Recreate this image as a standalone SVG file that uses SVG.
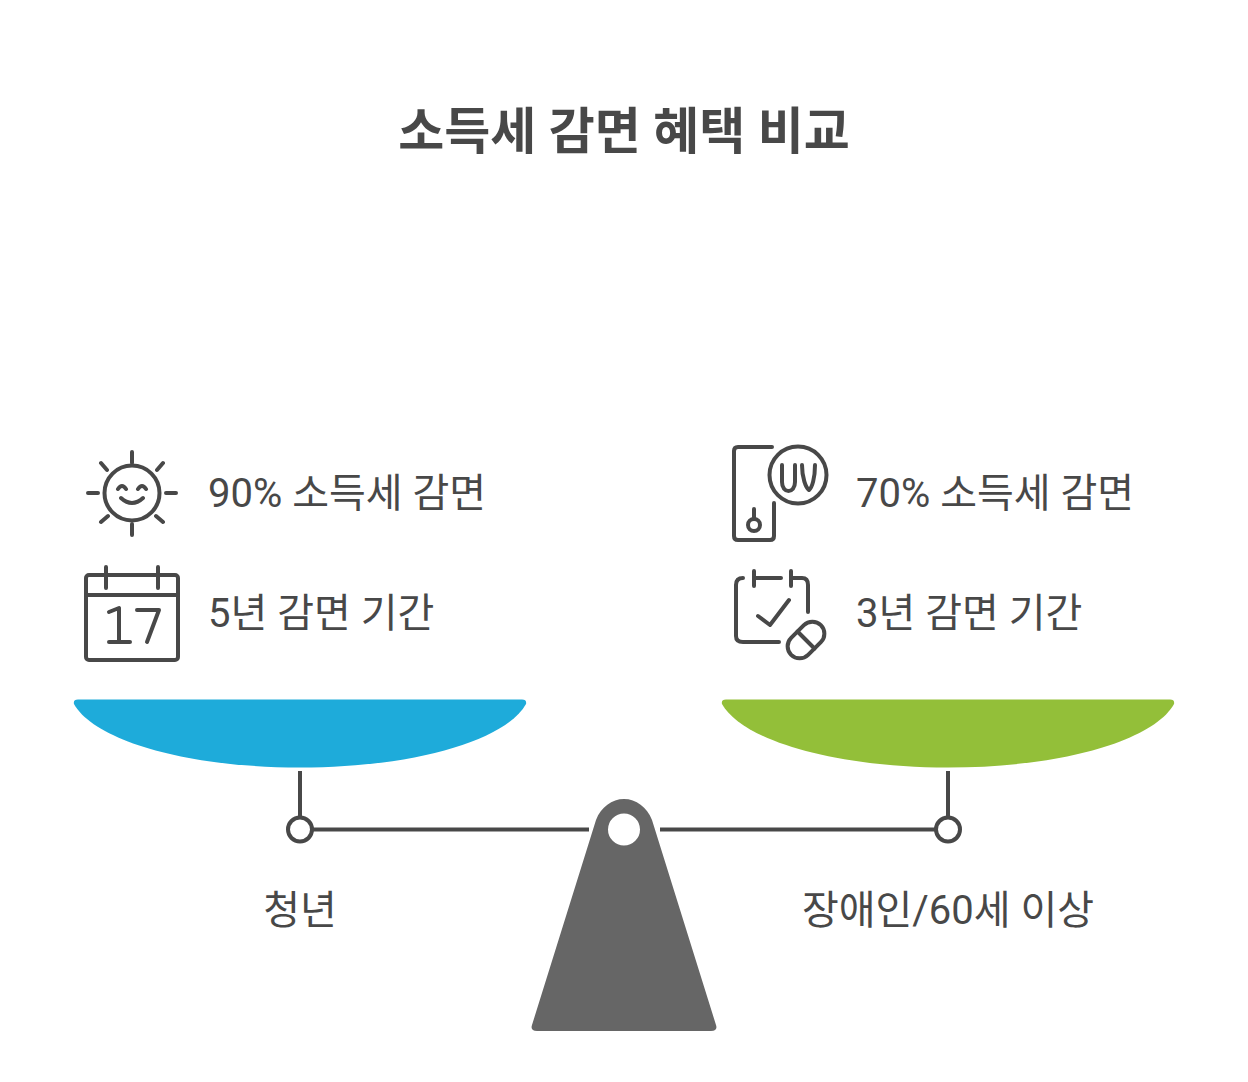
<svg xmlns="http://www.w3.org/2000/svg" width="1248" height="1082" viewBox="0 0 1248 1082">
<style>
text{font-family:Roboto,"Noto Sans CJK KR",sans-serif;fill:#484848}
.t{font-size:50px;font-weight:700;text-anchor:middle}
.l{font-size:40px}
.c{font-size:40px;text-anchor:middle}
.i{fill:none;stroke:#484848;stroke-width:4;stroke-linecap:round;stroke-linejoin:round}
.b{fill:none;stroke:#484848;stroke-width:4}
</style>
<rect width="1248" height="1082" fill="#fff"/>
<g id="title"><text class="t" x="624" y="149">소득세 감면 혜택 비교</text></g>
<g id="connectors">
<path class="b" d="M300 771V819M313 829.500H589M660 829.500H935M948 771V819"/>
<circle class="b" cx="300" cy="829.500" r="12" fill="#fff"/>
<circle class="b" cx="948" cy="829.500" r="12" fill="#fff"/>
</g>
<g id="pan-left"><path d="M78 699.500H522Q527 699.500 526 704C506 740 415 767.500 300 767.500C185 767.500 94 740 74 704Q73 699.500 78 699.500Z" fill="#1eabda"/></g>
<g id="pan-right"><path d="M726 699.500H1170Q1175 699.500 1174 704C1154 740 1063 767.500 948 767.500C833 767.500 742 740 722 704Q721 699.500 726 699.500Z" fill="#93bf39"/></g>
<g id="fulcrum"><path fill-rule="evenodd" d="M596 820C601 807 612 799 624 799C636 799 647 807 652 820L716 1025Q718 1031 711 1031H537Q530 1031 532 1025ZM624 813.500A16 16 0 1 0 624 845.500A16 16 0 1 0 624 813.500Z" fill="#666"/></g>
<g id="icon-sun" class="i">
<circle cx="132" cy="493" r="27.500"/>
<path d="M132 452V463M132 524V535M88 493H98M166 493H176M101 463L107 470M163 463L157 470M101 522L108 516M163 522L156 516"/>
<path d="M118 489Q122 483 126 489M138 489Q142 483 146 489M121 498Q132 508 143 498"/>
</g>
<g id="icon-calendar" class="i">
<rect x="86" y="575" width="92" height="85" rx="3"/>
<path d="M86 595H178M106 567V588M158 567V588"/>
<path d="M109 612L119 608V642M109 642H130M137 610H159L147 642"/>
</g>
<g id="icon-phone" class="i">
<path d="M772 447H738Q734 447 734 451V536Q734 540 738 540H770Q774 540 774 536V503"/>
<circle cx="754" cy="525" r="6"/><path d="M754 509V519"/>
<circle cx="798" cy="475" r="28.500"/>
<path d="M782 465V482C782 494 795 494 795 482V465M802 465C802 478 806 488 809 490C812 488 815 478 815 465"/>
</g>
<g id="icon-clipboard" class="i">
<path d="M743 578Q736 578 736 585V636Q736 642 743 642H779M754 571V586M754 578H781M791 571V586M791 578H802Q808 578 808 585V612M758 616L770 625L789 600"/>
<g transform="rotate(-45 806 640)"><rect x="785" y="628" width="42" height="24" rx="12"/><path d="M806 628V652"/></g>
</g>
<g id="labels">
<text class="l" x="208" y="507">90% 소득세 감면</text>
<text class="l" x="208" y="627">5년 감면 기간</text>
<text class="l" x="856" y="507">70% 소득세 감면</text>
<text class="l" x="856" y="627">3년 감면 기간</text>
<text class="c" x="300" y="924">청년</text>
<text class="c" x="948" y="924">장애인/60세 이상</text>
</g>
</svg>
